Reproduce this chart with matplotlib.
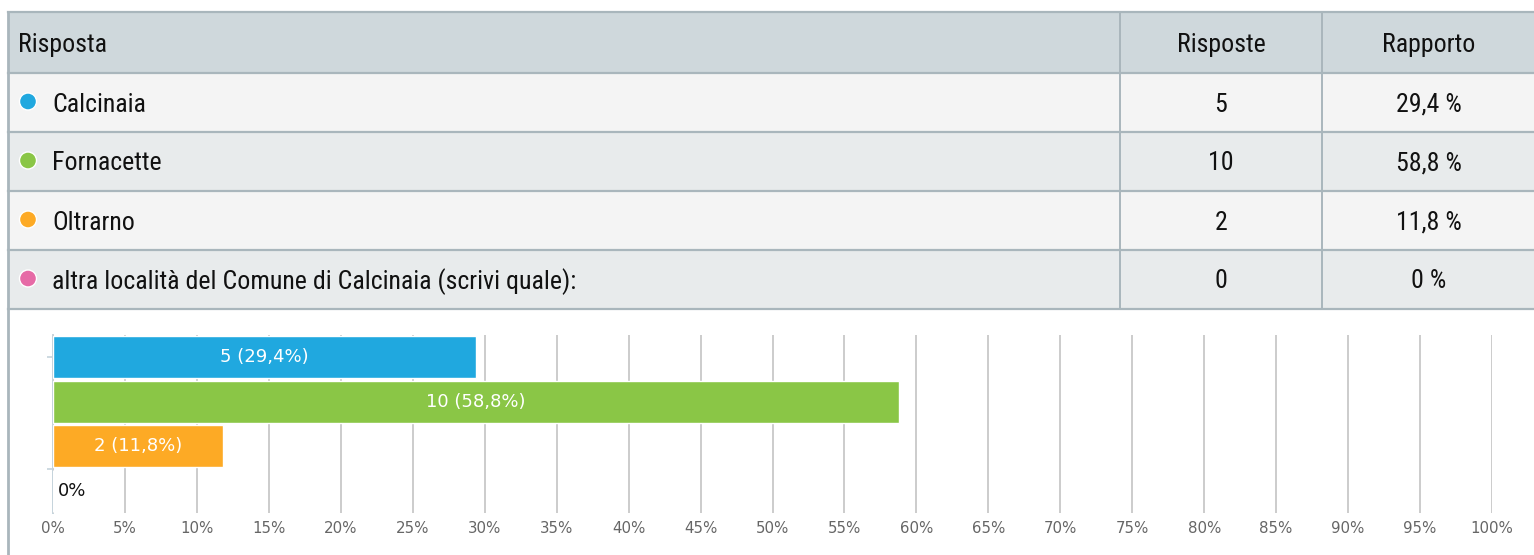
import matplotlib.pyplot as plt
from matplotlib.patches import Rectangle, Circle

# data
answers = ["Calcinaia", "Fornacette", "Oltrarno",
           "altra località del Comune di Calcinaia (scrivi quale):"]
counts = [5, 10, 2, 0]
ratios = [29.4, 58.8, 11.8, 0]
colors = ["#20a8df", "#8ac646", "#fdaa25", "#e66aa6"]
headers = ["Risposta", "Risposte", "Rapporto"]
xticks = list(range(0, 101, 5))

W, H = 1534, 555
TFONT = ["Roboto Condensed", "Roboto", "DejaVu Sans"]
TSIZE = 18.6
border = "#a9b6bc"

fig = plt.figure(figsize=(W / 100, H / 100), dpi=100)

# --- table part, drawn in pixel coordinates ---
ax_t = fig.add_axes([0, 0, 1, 1])
ax_t.set_xlim(0, W)
ax_t.set_ylim(H, 0)
ax_t.axis("off")

left, right = 8, 1545
col_x = [left, 1120, 1322, right]
row_y = [12, 73, 132, 191, 250, 309]
row_bg = ["#cfd8dc", "#f4f4f4", "#e8ebec", "#f4f4f4", "#e8ebec"]

for i in range(5):
    ax_t.add_patch(Rectangle((left, row_y[i]), right - left, row_y[i + 1] - row_y[i],
                             facecolor=row_bg[i], edgecolor="none", zorder=1))
for y in row_y:
    ax_t.plot([left, right], [y, y], color=border, lw=1.6, zorder=2)
for x in col_x[1:3]:
    ax_t.plot([x, x], [row_y[0], row_y[-1]], color=border, lw=1.4, zorder=2)
ax_t.plot([left, left], [row_y[0], H], color=border, lw=2, zorder=2)

# header
hy = (row_y[0] + row_y[1]) / 2 + 2.5
ax_t.text(18, hy, headers[0], fontsize=TSIZE, family=TFONT, va="center", ha="left", color="#111111")
ax_t.text((col_x[1] + col_x[2]) / 2, hy, headers[1], fontsize=TSIZE, family=TFONT,
          va="center", ha="center", color="#111111")
ax_t.text((col_x[2] + col_x[3]) / 2 - 5, hy, headers[2], fontsize=TSIZE, family=TFONT,
          va="center", ha="center", color="#111111")

for i, (name, n, r, c) in enumerate(zip(answers, counts, ratios, colors)):
    cy = (row_y[i + 1] + row_y[i + 2]) / 2
    ty = cy + 2
    ax_t.add_patch(Circle((28, cy - 1), 8.5, facecolor=c, edgecolor="white", lw=1, zorder=3))
    ax_t.text(52, ty, name, fontsize=TSIZE, family=TFONT, va="center", ha="left", color="#111111")
    ax_t.text((col_x[1] + col_x[2]) / 2, ty, str(n), fontsize=TSIZE, family=TFONT,
              va="center", ha="center", color="#111111")
    rtxt = (f"{r:.1f}".replace(".", ",") if r else "0") + " %"
    ax_t.text((col_x[2] + col_x[3]) / 2 - 5, ty, rtxt, fontsize=TSIZE, family=TFONT,
              va="center", ha="center", color="#111111")

# --- bar chart part ---
x0, x1, y_top, y_bot = 53, 1492, 335, 513
ax = fig.add_axes([x0 / W, (H - y_bot) / H, (x1 - x0) / W, (y_bot - y_top) / H])
ax.patch.set_alpha(0)
ypos = list(range(len(answers)))
ax.barh(ypos, ratios, height=0.95, color=colors, edgecolor="white", lw=1, zorder=2)
ax.set_xlim(0, 100)
ax.set_ylim(len(answers) - 0.5, -0.5)

ax.set_xticks(xticks)
ax.set_xticklabels([f"{t}%" for t in xticks], color="#666666", fontsize=10.8)
ax.tick_params(axis="x", length=0, pad=6)
ax.grid(axis="x", color="#cccccc", lw=1.4, zorder=0)
ax.set_axisbelow(True)

ax.set_yticks([0, 2.5])
ax.set_yticklabels(["", ""])
ax.tick_params(axis="y", length=4.5, color="#c5d3dc", width=1.2)
for s in ["top", "right", "bottom"]:
    ax.spines[s].set_visible(False)
ax.spines["left"].set_color("#c5d3dc")
ax.spines["left"].set_linewidth(1.4)
ax.spines["left"].set_zorder(0.5)

for y, r, n in zip(ypos, ratios, counts):
    lbl = f"{r:.1f}".replace(".", ",")
    if r > 0:
        ax.text(r / 2, y, f"{n} ({lbl}%)", color="white", fontsize=13,
                ha="center", va="center", zorder=3)
    else:
        ax.text(0.35, y, "0%", color="#111111", fontsize=13, ha="left", va="center", zorder=3)

fig.savefig("out.png", dpi=100)
